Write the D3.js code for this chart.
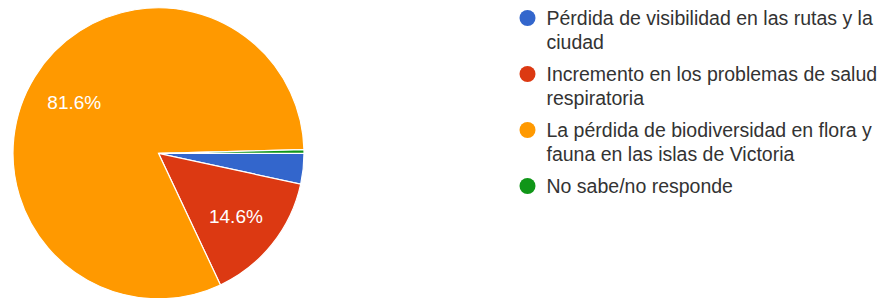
<!DOCTYPE html>
<html>
<head>
<meta charset="utf-8">
<script src="https://cdn.jsdelivr.net/npm/d3@7"></script>
<style>
  html, body { margin: 0; padding: 0; background: #fff; }
  svg { display: block; }
</style>
</head>
<body>
<svg id="chart" width="883" height="298"></svg>
<script>
const categories = [
  "Pérdida de visibilidad en las rutas y la ciudad",
  "Incremento en los problemas de salud respiratoria",
  "La pérdida de biodiversidad en flora y fauna en las islas de Victoria",
  "No sabe/no responde"
];
const values = [3.4, 14.6, 81.6, 0.4];
const colors = ["#3366cc", "#dc3912", "#ff9900", "#109618"];

const svg = d3.select("#chart");
const cx = 158.5, cy = 153.3, R = 145.5;

const pie = d3.pie().sort(null).value(d => d)
  .startAngle(Math.PI / 2).endAngle(Math.PI / 2 + 2 * Math.PI);
const arcs = pie(values);
const arc = d3.arc().innerRadius(0).outerRadius(R);
const labelArc = d3.arc().innerRadius(R * 0.68).outerRadius(R * 0.68);

const g = svg.append("g").attr("transform", `translate(${cx},${cy})`);
g.selectAll("path.slice").data(arcs).enter().append("path")
  .attr("class", "slice")
  .attr("d", arc)
  .attr("fill", (d, i) => colors[i])
  .attr("stroke", "#ffffff")
  .attr("stroke-width", 1.2);

g.selectAll("text.pl").data(arcs.filter(d => d.data >= 5)).enter().append("text")
  .attr("class", "pl")
  .attr("transform", d => { const c = labelArc.centroid(d); return `translate(${c[0]},${c[1] + 1.5})`; })
  .attr("text-anchor", "middle")
  .attr("dominant-baseline", "central")
  .attr("font-family", "Arial, 'Liberation Sans', sans-serif")
  .attr("font-size", 19)
  .attr("fill", "#ffffff")
  .text(d => d.data.toFixed(1) + "%");

// Legend
const lx = 527.5, tx = 546.5, y0 = 18, lineH = 23.5, gap = 9, maxW = 338;
const leg = svg.append("g");
let y = y0;
categories.forEach((c, i) => {
  const item = leg.append("g");
  item.append("circle").attr("cx", lx).attr("cy", y).attr("r", 8).attr("fill", colors[i]);
  const t = item.append("text")
    .attr("font-family", "Arial, 'Liberation Sans', sans-serif")
    .attr("font-size", 19.5)
    .attr("fill", "#333333");
  const words = c.split(" ");
  let lines = [], cur = "";
  const probe = t.append("tspan");
  words.forEach(w => {
    const test = cur ? cur + " " + w : w;
    probe.text(test);
    if (probe.node().getComputedTextLength() > maxW && cur) {
      lines.push(cur); cur = w;
    } else cur = test;
  });
  lines.push(cur);
  probe.remove();
  lines.forEach((ln, k) => {
    t.append("tspan").attr("x", tx).attr("y", y + k * lineH)
      .attr("dominant-baseline", "central").text(ln);
  });
  y += lines.length * lineH + gap;
});
</script>
</body>
</html>
